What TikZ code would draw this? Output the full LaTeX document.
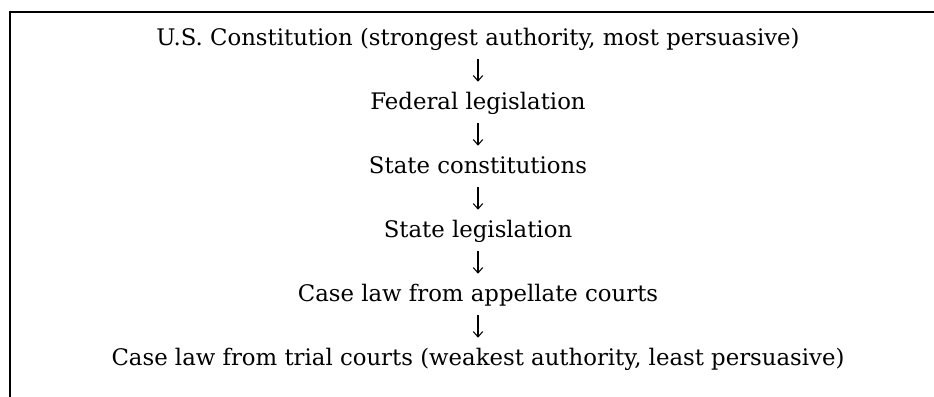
\documentclass[tikz,border=0pt]{standalone}
\usepackage{fontspec}
\setmainfont{DejaVu Serif}
\usetikzlibrary{arrows.meta}

\tikzset{
  level/.style={inner sep=0pt, anchor=base, text height=13.5pt, text depth=4.5pt,
    font=\fontsize{17.1}{20}\selectfont},
  down/.style={-{Straight Barb[length=4pt,width=7pt]}, line width=0.8pt,
    shorten <=6pt, shorten >=6.75pt}
}

\begin{document}
\begin{tikzpicture}[x=0.75pt,y=0.75pt,yscale=-1,xscale=1]
        \useasboundingbox (0,0) rectangle (934,396);

        %Straight Lines (frame)
        \draw [line width=2pt]  (10,400) -- (10,12) -- (940,12) ;

        % Text Node
        \node [level] (uscon) at (478,45) {U.S. Constitution (strongest authority, most persuasive)};
        % Text Node
        \node [level] (fedleg) at (478,109) {Federal legislation};
        % Text Node
        \node [level] (statecon) at (478,173) {State constitutions};
        % Text Node
        \node [level] (stateleg) at (478,237) {State legislation};
        % Text Node
        \node [level] (appcase) at (478,301) {Case law from appellate courts};
        % Text Node
        \node [level] (trialcase) at (478,365) {Case law from trial courts (weakest authority, least persuasive)};

        %Straight Lines
        \draw [down] (uscon) -- (fedleg) ;
        \draw [down] (fedleg) -- (statecon) ;
        \draw [down] (statecon) -- (stateleg) ;
        \draw [down] (stateleg) -- (appcase) ;
        \draw [down] (appcase) -- (trialcase) ;

    \end{tikzpicture}
\end{document}
